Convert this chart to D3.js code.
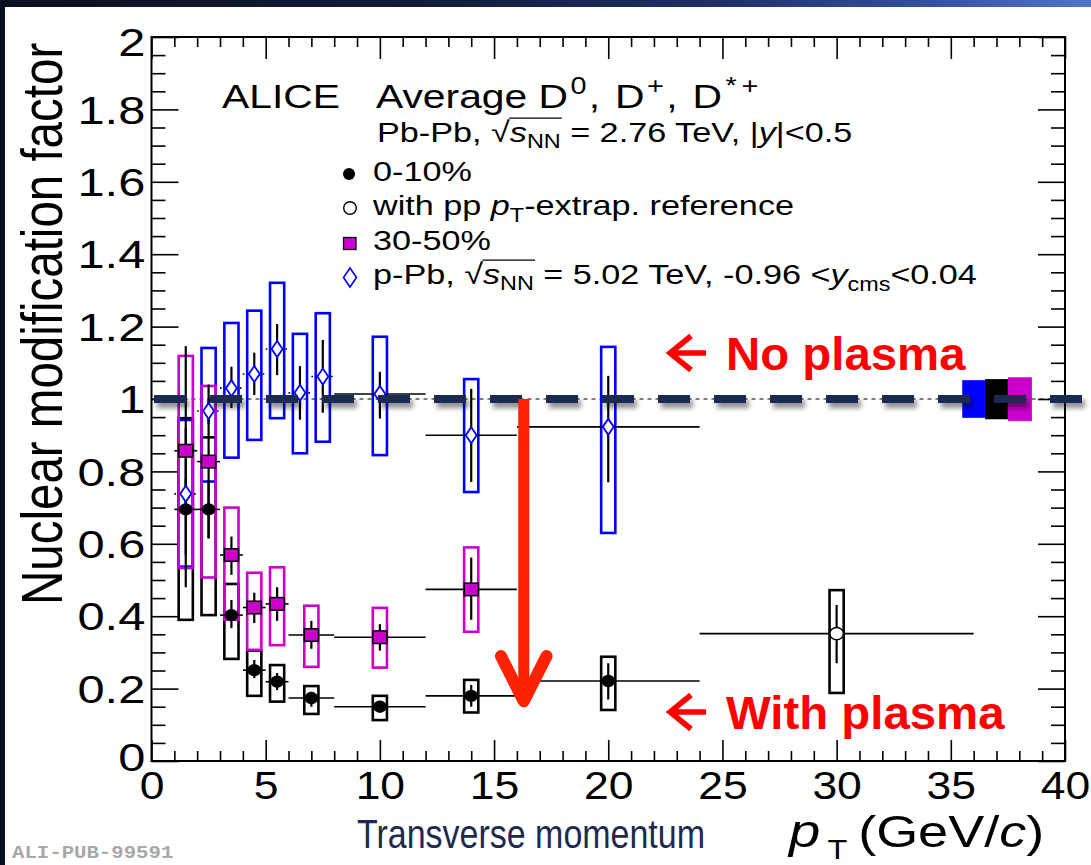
<!DOCTYPE html>
<html>
<head>
<meta charset="utf-8">
<script src="https://cdn.jsdelivr.net/npm/d3@7"></script>
<style>
  body { margin: 0; background: #fff; }
  svg { display: block; }
  text { font-family: "Liberation Sans", Arial, Helvetica, sans-serif; }
</style>
</head>
<body>
<div id="chart"></div>
<script>
// Pb-Pb 0-10% (filled circles)
const c010Pt     = [1.5, 2.5, 3.5, 4.5, 5.5, 7, 10, 14, 20];
const c010Lo     = [1, 2, 3, 4, 5, 6, 8, 12, 16];
const c010Hi     = [2, 3, 4, 5, 6, 8, 12, 16, 24];
const c010Raa    = [0.695, 0.695, 0.403, 0.251, 0.219, 0.174, 0.150, 0.180, 0.221];
const c010StatLo = [0.48, 0.615, 0.367, 0.229, 0.196, 0.150, 0.138, 0.150, 0.170];
const c010StatHi = [0.92, 0.775, 0.445, 0.279, 0.243, 0.191, 0.160, 0.210, 0.270];
const c010SysLo  = [0.390, 0.403, 0.282, 0.180, 0.164, 0.130, 0.113, 0.134, 0.141];
const c010SysHi  = [0.947, 0.894, 0.489, 0.305, 0.265, 0.207, 0.180, 0.224, 0.288];

// 0-10% with pp pT-extrapolated reference (open circle)
const extPt = [30], extLo = [24], extHi = [36], extRaa = [0.352];
const extStatLo = [0.270], extStatHi = [0.431], extSysLo = [0.188], extSysHi = [0.472];

// Pb-Pb 30-50% (squares)
const c3050Pt     = [1.5, 2.5, 3.5, 4.5, 5.5, 7, 10, 14];
const c3050Lo     = [1, 2, 3, 4, 5, 6, 8, 12];
const c3050Hi     = [2, 3, 4, 5, 6, 8, 12, 16];
const c3050Raa    = [0.857, 0.827, 0.569, 0.424, 0.434, 0.348, 0.342, 0.474];
const c3050StatLo = [0.57, 0.615, 0.514, 0.381, 0.387, 0.310, 0.305, 0.390];
const c3050StatHi = [1.146, 1.04, 0.620, 0.465, 0.480, 0.387, 0.378, 0.562];
const c3050SysLo  = [0.533, 0.507, 0.390, 0.307, 0.320, 0.260, 0.258, 0.357];
const c3050SysHi  = [1.119, 1.036, 0.700, 0.520, 0.535, 0.429, 0.423, 0.590];

// p-Pb 5.02 TeV (open diamonds)
const pPbPt     = [1.5, 2.5, 3.5, 4.5, 5.5, 6.5, 7.5, 10, 14, 20];
const pPbLo     = [1, 2, 3, 4, 5, 6, 7, 8, 12, 16];
const pPbHi     = [2, 3, 4, 5, 6, 7, 8, 12, 16, 24];
const pPbRaa    = [0.738, 0.967, 1.030, 1.069, 1.138, 1.017, 1.062, 1.014, 0.900, 0.923];
const pPbStatLo = [0.70, 0.93, 0.975, 1.011, 1.066, 0.943, 0.962, 0.946, 0.771, 0.770];
const pPbStatHi = [0.78, 1.00, 1.089, 1.128, 1.207, 1.091, 1.163, 1.075, 1.028, 1.064];
const pPbSysLo  = [0.537, 0.772, 0.838, 0.887, 0.947, 0.850, 0.882, 0.845, 0.743, 0.630];
const pPbSysHi  = [0.942, 1.141, 1.210, 1.244, 1.321, 1.180, 1.237, 1.172, 1.055, 1.144];

// normalisation uncertainty boxes at unity (p-Pb, 0-10%, 30-50%)
const normX0 = [35.5, 36.5, 37.5];
const normX1 = [36.5, 37.5, 38.55];
const normLo = [0.948, 0.944, 0.939];
const normHi = [1.052, 1.055, 1.060];

// axis ticks
const xMajor = [0, 5, 10, 15, 20, 25, 30, 35, 40];
const xMinor = d3.range(0, 41).filter(v => v % 5 !== 0);
const yMajor = d3.range(0, 11).map(i => +(i * 0.2).toFixed(1));
const yMinor = d3.range(0, 41).filter(i => i % 4 !== 0).map(i => +(i * 0.05).toFixed(2));

// red "suppression" arrow (pT, from RAA, to RAA)
const arrowPt = 16.3, arrowFrom = 1.0, arrowTo = 0.165;

const width = 1091, height = 865;
const STRETCH = 1.2; // the original figure is a little wider than tall
const MAG = "#cc00cc", BLUE = "#0000ff";

const svg = d3.select("#chart").append("svg")
    .attr("width", width)
    .attr("height", height);

const defs = svg.append("defs");
const grad = defs.append("linearGradient").attr("id", "bg")
    .attr("x1", 0).attr("x2", 1).attr("y1", 0).attr("y2", 0);
[[0, "#0a1020"], [0.4, "#111d3c"], [0.65, "#1d3064"], [0.85, "#3450a0"], [1, "#5574c6"]]
    .forEach(s => grad.append("stop").attr("offset", s[0]).attr("stop-color", s[1]));

const shadow = defs.append("filter").attr("id", "shadow")
    .attr("filterUnits", "userSpaceOnUse")
    .attr("x", 0).attr("y", 370).attr("width", width).attr("height", 60);
shadow.append("feDropShadow")
    .attr("dx", 3).attr("dy", 5).attr("stdDeviation", 2.5)
    .attr("flood-color", "#000").attr("flood-opacity", 0.45);

// slide background
svg.append("rect").attr("width", width).attr("height", height).attr("fill", "url(#bg)");
svg.append("rect").attr("x", 5).attr("y", 7).attr("width", width).attr("height", height).attr("fill", "#fff");

const x = d3.scaleLinear().domain([0, 40]).range([151.5, 1065]);
const y = d3.scaleLinear().domain([0, 2]).range([761, 37]);

// ---- axes ----
function axisGroup(axis, tx, ty) {
    const g = svg.append("g").attr("transform", `translate(${tx},${ty})`).call(axis);
    g.select(".domain").remove();
    g.selectAll(".tick line").attr("stroke", "#000").attr("stroke-width", 1.6);
    return g;
}

const gx = axisGroup(d3.axisBottom(x).tickValues(xMajor).tickSize(-21).tickPadding(11)
    .tickFormat(d3.format("d")), 0, y(0));
gx.selectAll("text").attr("font-size", 38).attr("fill", "#000")
    .attr("transform", `scale(1.17,1)`);
axisGroup(d3.axisBottom(x).tickValues(xMinor).tickSize(-10).tickFormat(""), 0, y(0));
axisGroup(d3.axisTop(x).tickValues(xMajor).tickSize(-22).tickFormat(""), 0, y(2));
axisGroup(d3.axisTop(x).tickValues(xMinor).tickSize(-10).tickFormat(""), 0, y(2));

const gy = axisGroup(d3.axisLeft(y).tickValues(yMajor).tickSize(-27).tickPadding(6)
    .tickFormat(d => String(d)), x(0), 0);
gy.selectAll("text").attr("font-size", 39).attr("fill", "#000")
    .attr("x", -5)
    .attr("dy", d => d === 2 ? "0.48em" : d === 0 ? "0.24em" : "0.35em")
    .attr("transform", `scale(1.25,1)`);
axisGroup(d3.axisLeft(y).tickValues(yMinor).tickSize(-14).tickFormat(""), x(0), 0);
axisGroup(d3.axisRight(y).tickValues(yMajor).tickSize(-27).tickFormat(""), x(40), 0);
axisGroup(d3.axisRight(y).tickValues(yMinor).tickSize(-14).tickFormat(""), x(40), 0);

svg.append("rect")
    .attr("x", x(0)).attr("y", y(2))
    .attr("width", x(40) - x(0)).attr("height", y(0) - y(2))
    .attr("fill", "none").attr("stroke", "#000").attr("stroke-width", 2);

// thin dashed line at unity
svg.append("line")
    .attr("x1", x(0)).attr("x2", x(40)).attr("y1", y(1)).attr("y2", y(1))
    .attr("stroke", "#000").attr("stroke-width", 1).attr("stroke-dasharray", "4,4");

// ---- data ----
function rows(pt, lo, hi, raa, sl, sh, yl, yh) {
    return pt.map((p, i) => ({pt: p, lo: lo[i], hi: hi[i], raa: raa[i],
        statLo: sl[i], statHi: sh[i], sysLo: yl[i], sysHi: yh[i], i: i}));
}
const c010 = rows(c010Pt, c010Lo, c010Hi, c010Raa, c010StatLo, c010StatHi, c010SysLo, c010SysHi);
const ext = rows(extPt, extLo, extHi, extRaa, extStatLo, extStatHi, extSysLo, extSysHi);
const c3050 = rows(c3050Pt, c3050Lo, c3050Hi, c3050Raa, c3050StatLo, c3050StatHi, c3050SysLo, c3050SysHi);
const pPb = rows(pPbPt, pPbLo, pPbHi, pPbRaa, pPbStatLo, pPbStatHi, pPbSysLo, pPbSysHi);

const boxHalf = 0.31;
function drawBoxes(data, color) {
    svg.append("g").selectAll("rect").data(data).join("rect")
        .attr("x", d => x(d.pt - boxHalf))
        .attr("width", d => x(d.pt + boxHalf) - x(d.pt - boxHalf))
        .attr("y", d => y(d.sysHi))
        .attr("height", d => y(d.sysLo) - y(d.sysHi))
        .attr("fill", "none").attr("stroke", color).attr("stroke-width", 2.6);
}
drawBoxes(c010, "#000");
drawBoxes(ext, "#000");
drawBoxes(pPb, BLUE);
drawBoxes(c3050, MAG);

// normalisation boxes
svg.append("g").selectAll("rect").data(normX0).join("rect")
    .attr("x", (d, i) => x(d))
    .attr("width", (d, i) => x(normX1[i]) - x(d))
    .attr("y", (d, i) => y(normHi[i]))
    .attr("height", (d, i) => y(normLo[i]) - y(normHi[i]))
    .attr("fill", (d, i) => [BLUE, "#000", MAG][i]);

// x (bin width) bars
function drawXBars(data, dashFn) {
    svg.append("g").selectAll("line").data(data).join("line")
        .attr("x1", d => x(d.lo)).attr("x2", d => x(d.hi))
        .attr("y1", d => y(d.raa)).attr("y2", d => y(d.raa))
        .attr("stroke", "#000").attr("stroke-width", 1.6)
        .attr("stroke-dasharray", dashFn || null);
}
drawXBars(c010);
drawXBars(ext);
drawXBars(c3050);
drawXBars(pPb, d => (d.hi - d.lo) > 1 ? null : "1.6,5");

// statistical bars
function drawStat(data) {
    svg.append("g").selectAll("line").data(data).join("line")
        .attr("x1", d => x(d.pt)).attr("x2", d => x(d.pt))
        .attr("y1", d => y(d.statLo)).attr("y2", d => y(d.statHi))
        .attr("stroke", "#000").attr("stroke-width", 2.2);
}
drawStat(c010);
drawStat(ext);
drawStat(c3050);
drawStat(pPb);

// markers
svg.append("g").selectAll("path").data(pPb).join("path")
    .attr("d", d => `M${x(d.pt)},${y(d.raa) - 8} l5.5,8 l-5.5,8 l-5.5,-8 z`)
    .attr("fill", "#fff").attr("stroke", BLUE).attr("stroke-width", 1.8);
svg.append("g").selectAll("rect").data(c3050).join("rect")
    .attr("x", d => x(d.pt) - 7).attr("y", d => y(d.raa) - 6.3)
    .attr("width", 14).attr("height", 12.6)
    .attr("fill", MAG).attr("stroke", "#000").attr("stroke-width", 1.5);
svg.append("g").selectAll("ellipse").data(c010).join("ellipse")
    .attr("cx", d => x(d.pt)).attr("cy", d => y(d.raa))
    .attr("rx", 6.8).attr("ry", 6.2).attr("fill", "#000");
svg.append("g").selectAll("ellipse").data(ext).join("ellipse")
    .attr("cx", d => x(d.pt)).attr("cy", d => y(d.raa))
    .attr("rx", 6.8).attr("ry", 6.2).attr("fill", "#fff")
    .attr("stroke", "#000").attr("stroke-width", 1.5);

// thick navy dashed "no plasma" line with shadow
svg.append("line")
    .attr("x1", 154).attr("x2", width + 20).attr("y1", y(1)).attr("y2", y(1))
    .attr("stroke", "#1b2c4f").attr("stroke-width", 8)
    .attr("stroke-dasharray", "32,24")
    .attr("filter", "url(#shadow)");

// red suppression arrow
const RED = "#ff2200";
svg.append("line")
    .attr("x1", x(arrowPt)).attr("x2", x(arrowPt))
    .attr("y1", y(arrowFrom)).attr("y2", y(arrowTo) - 14)
    .attr("stroke", RED).attr("stroke-width", 11);
svg.append("path")
    .attr("d", `M${x(arrowPt - 1)},${y(arrowTo + 0.125)} L${x(arrowPt)},${y(arrowTo)} L${x(arrowPt + 1)},${y(arrowTo + 0.125)}`)
    .attr("fill", "none").attr("stroke", RED).attr("stroke-width", 12)
    .attr("stroke-linecap", "round").attr("stroke-linejoin", "round");

// ---- text ----
function textAt(px, py, sx, size) {
    const g = svg.append("g").attr("transform", `translate(${px},${py}) scale(${sx},1)`);
    const t = g.append("text").attr("font-size", size).attr("fill", "#000");
    return {g, t};
}
function addParts(t, parts) {
    parts.forEach(p => {
        const s = t.append("tspan").text(p.t);
        if (p.fs) s.attr("font-size", p.fs);
        if (p.it) s.attr("font-style", "italic");
        if (p.dy) s.attr("dy", p.dy);
        if (p.dx) s.attr("dx", p.dx);
    });
}
// overline of a square-root sign spanning from the radical to charEnd
function radicalBar(o, rootIdx, endIdx) {
    const node = o.t.node();
    const r = node.getExtentOfChar(rootIdx);
    const e = node.getExtentOfChar(endIdx);
    o.g.append("line")
        .attr("x1", r.x + r.width - 0.5).attr("x2", e.x + e.width + 1)
        .attr("y1", r.y + 1.5).attr("y2", r.y + 1.5)
        .attr("stroke", "#000").attr("stroke-width", 1.3);
}

// y title
svg.append("text")
    .attr("transform", `translate(62,605) scale(${STRETCH},1) rotate(-90)`)
    .attr("font-size", 47.5).attr("fill", "#000")
    .text("Nuclear modification factor");

// x title
svg.append("text")
    .attr("x", 357).attr("y", 848)
    .attr("font-size", 40).attr("fill", "#1c2a4e")
    .attr("textLength", 348).attr("lengthAdjust", "spacingAndGlyphs")
    .text("Transverse momentum");
const xt = textAt(789, 847, STRETCH, 45);
addParts(xt.t, [
    {t: "p", it: true, fs: 47},
    {t: "T", fs: 27, dy: 12, dx: 6},
    {t: "(GeV/", dy: -12, dx: 9},
    {t: "c", it: true},
    {t: ")"}
]);

// legend
const LF = 28.5, SF = 19.5;
textAt(222, 108, STRETCH, 34).t.text("ALICE");
const hd = textAt(376, 108, STRETCH, 34);
addParts(hd.t, [
    {t: "Average D"},
    {t: "0", fs: 24, dy: -14, dx: 2},
    {t: ",", dy: 14, dx: 2},
    {t: " D", dx: 3},
    {t: "+", fs: 24, dy: -14, dx: 2},
    {t: ",", dy: 14, dx: 2},
    {t: " D", dx: 3},
    {t: "*", fs: 24, dy: -14, dx: 3},
    {t: "+", fs: 24, dx: 4}
]);

const l1 = textAt(377, 142, STRETCH, LF);
addParts(l1.t, [
    {t: "Pb-Pb, "},
    {t: "\u221A"},
    {t: "s", it: true},
    {t: "NN", fs: SF, dy: 6},
    {t: " = 2.76 TeV, |", dy: -6},
    {t: "y", it: true},
    {t: "|<0.5"}
]);
radicalBar(l1, 7, 10);

textAt(373, 181, STRETCH, LF).t.text("0-10%");
const l3 = textAt(373, 215, STRETCH, LF);
addParts(l3.t, [
    {t: "with pp "},
    {t: "p", it: true},
    {t: "T", fs: SF, dy: 7},
    {t: "-extrap. reference", dy: -7}
]);
textAt(373, 250, STRETCH, LF).t.text("30-50%");
const l5 = textAt(373, 284, STRETCH, LF);
addParts(l5.t, [
    {t: "p-Pb, "},
    {t: "\u221A"},
    {t: "s", it: true},
    {t: "NN", fs: SF, dy: 6},
    {t: " = 5.02 TeV, -0.96 <", dy: -6},
    {t: "y", it: true},
    {t: "cms", fs: SF, dy: 7},
    {t: "<0.04", dy: -7}
]);
radicalBar(l5, 6, 9);

// legend markers
svg.append("circle").attr("cx", 349).attr("cy", 174).attr("r", 6).attr("fill", "#000");
svg.append("circle").attr("cx", 350).attr("cy", 208).attr("r", 6.3)
    .attr("fill", "#fff").attr("stroke", "#000").attr("stroke-width", 1.4);
svg.append("rect").attr("x", 343.5).attr("y", 237.5).attr("width", 12.5).attr("height", 12)
    .attr("fill", MAG).attr("stroke", "#000").attr("stroke-width", 1.3);
svg.append("path").attr("d", "M350,268 l6.5,9.5 l-6.5,9.5 l-6.5,-9.5 z")
    .attr("fill", "#fff").attr("stroke", BLUE).attr("stroke-width", 1.6);

// annotations
function redLabel(py, label) {
    svg.append("path")
        .attr("d", `M706,${py} H670 M691,${py - 17} L670,${py} L691,${py + 17}`)
        .attr("fill", "none").attr("stroke", "#ff0000").attr("stroke-width", 5.5);
    textAt(726, py + 17, 1.03, 46).t
        .attr("font-weight", "bold").attr("fill", "#ff0000").text(label);
}
redLabel(353, "No plasma");
redLabel(712, "With plasma");

svg.append("text")
    .attr("transform", `translate(12,858) scale(1.15,1)`)
    .style("font-family", "'Liberation Mono', 'Courier New', monospace")
    .attr("font-weight", "bold")
    .attr("font-size", 18).attr("fill", "#a8a8a8")
    .text("ALI-PUB-99591");
</script>
</body>
</html>
